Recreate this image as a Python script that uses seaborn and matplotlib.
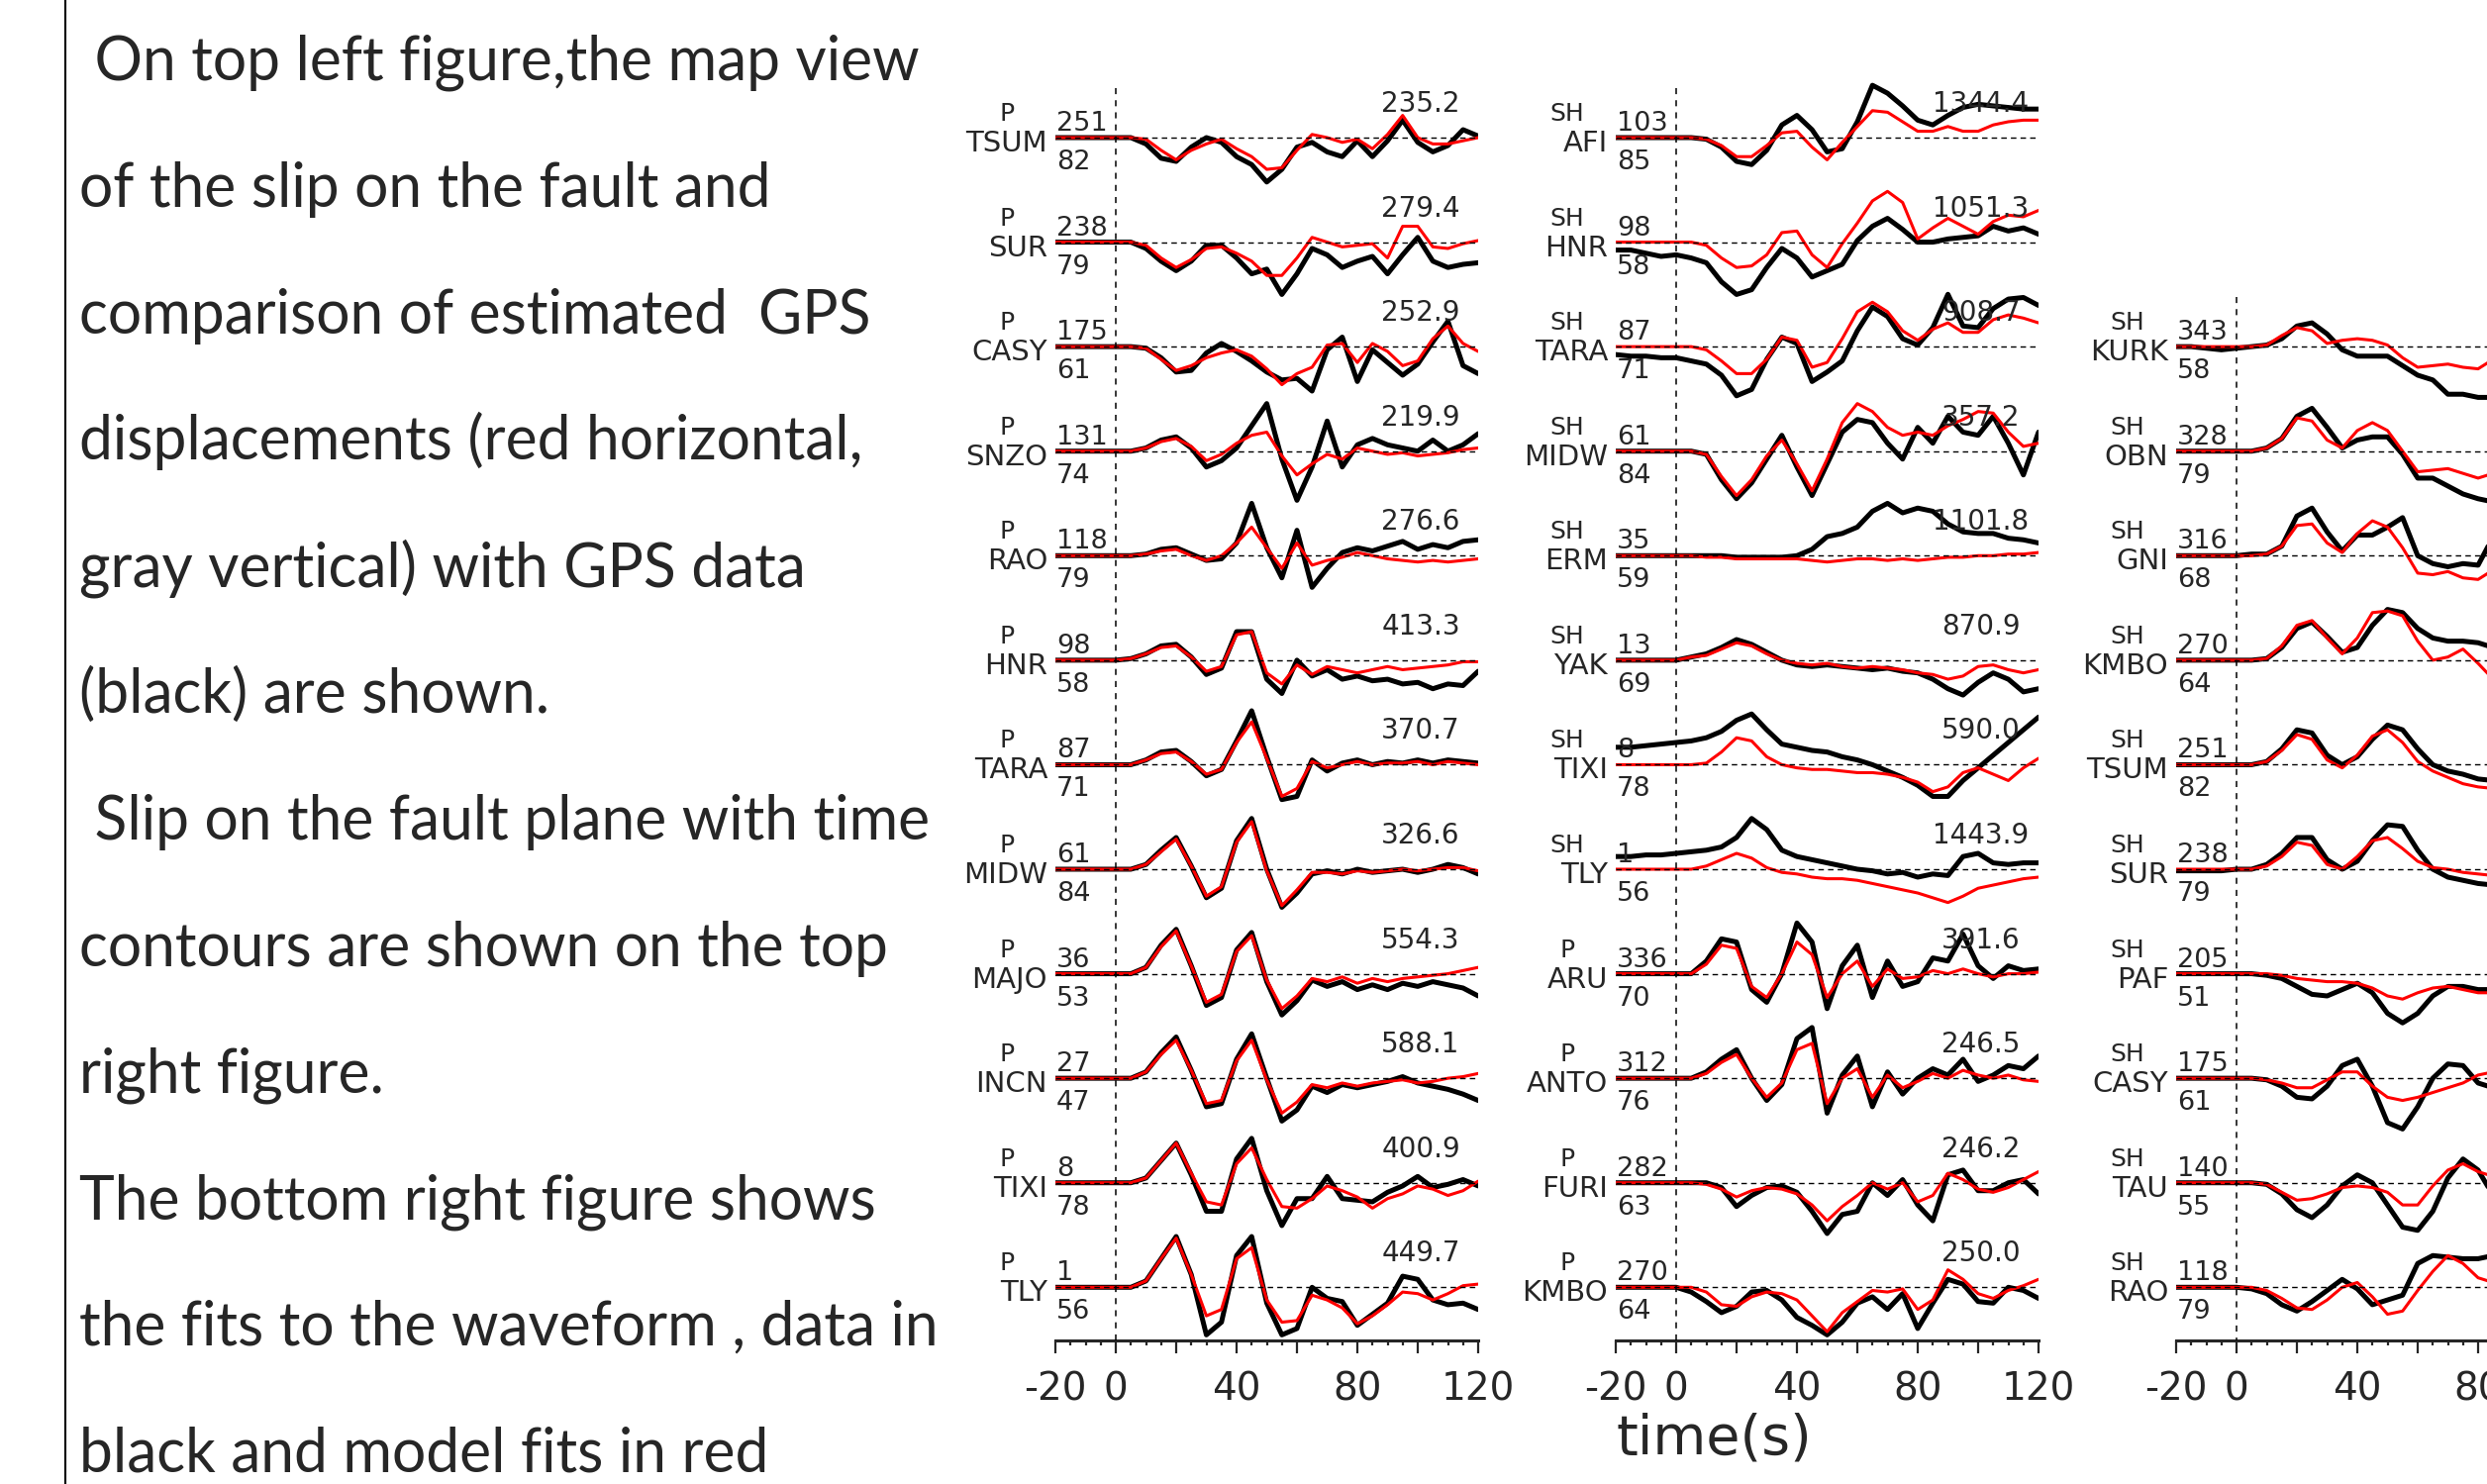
import numpy as np
import matplotlib.pyplot as plt
import matplotlib.ticker as mticker
from matplotlib.lines import Line2D
import seaborn as sns

# time samples (s) - columns 1 and 2 run to 120 s, column 3 is cut by the page edge
TIME = [-20, -15, -10, -5, 0, 5, 10, 15, 20, 25, 30, 35, 40, 45, 50,
        55, 60, 65, 70, 75, 80, 85, 90, 95, 100, 105, 110, 115, 120]
TIME3 = [-20, -15, -10, -5, 0, 5, 10, 15, 20, 25, 30, 35, 40, 45, 50,
         55, 60, 65, 70, 75, 80, 85]

# ---------------- column 1 (P waves) ----------------
tsum_p_obs = [0, 0, 0, 0, 0, 0, -4, -13, -15, -6, 0, -3, -12, -17, -28, -20, -6, -3, -9, -12, -2, -12, -2, 11, -3, -9, -5, 5, 1]
tsum_p_syn = [0, 0, 0, 0, 0, 0, -1, -8, -14, -8, -4, -1, -7, -12, -20, -19, -8, 2, 0, -3, -1, -7, 2, 14, 0, -4, -4, -2, 0]
sur_p_obs = [0, 0, 0, 0, 0, 0, -4, -12, -18, -12, -2, -2, -10, -20, -17, -33, -20, -4, -8, -16, -12, -9, -20, -8, 3, -12, -16, -14, -13]
sur_p_syn = [0, 0, 0, 0, 0, 0, -2, -10, -16, -11, -4, -3, -7, -12, -21, -21, -10, 3, 0, -3, -2, -1, -10, 10, 10, -3, -4, -1, 1]
casy_p_obs = [0, 0, 0, 0, 0, 0, -1, -7, -16, -15, -4, 2, -3, -9, -16, -21, -20, -28, -2, 6, -22, -2, -10, -18, -11, 3, 16, -12, -17]
casy_p_syn = [0, 0, 0, 0, 0, 0, -1, -8, -15, -12, -7, -4, -2, -6, -14, -24, -17, -13, 1, 2, -10, 2, -3, -12, -9, 5, 13, 2, -3]
snzo_p_obs = [0, 0, 0, 0, 0, 0, 2, 7, 9, 2, -10, -6, 2, 16, 30, -5, -31, -10, 19, -10, 4, 8, 4, 2, 0, 7, 0, 4, 11]
snzo_p_syn = [0, 0, 0, 0, 0, 0, 2, 6, 8, 3, -6, -2, 5, 10, 12, -3, -15, -8, -2, -5, 2, 0, -2, -1, -3, -2, -1, 1, 2]
rao_p_obs = [0, 0, 0, 0, 0, 0, 1, 4, 5, 1, -3, -2, 8, 33, 5, -14, 16, -20, -8, 2, 5, 3, 6, 9, 4, 7, 5, 9, 10]
rao_p_syn = [0, 0, 0, 0, 0, 0, 1, 3, 4, 0, -3, 0, 8, 18, 5, -8, 8, -6, -3, -1, 2, 0, -2, -3, -4, -3, -4, -3, -2]
hnr_p_obs = [0, 0, 0, 0, 0, 1, 4, 9, 10, 2, -9, -5, 18, 18, -12, -21, 0, -10, -6, -12, -10, -13, -12, -15, -14, -18, -15, -16, -7]
hnr_p_syn = [0, 0, 0, 0, 0, 1, 4, 8, 9, 2, -7, -4, 16, 18, -8, -15, -3, -9, -4, -6, -8, -6, -4, -6, -5, -4, -3, -1, -1]
tara_p_obs = [0, 0, 0, 0, 0, 0, 3, 8, 9, 2, -7, -3, 15, 34, 5, -22, -20, 3, -4, 1, 3, 0, 2, 1, 3, 1, 3, 2, 1]
tara_p_syn = [0, 0, 0, 0, 0, 0, 3, 7, 8, 2, -6, -3, 14, 27, 4, -20, -15, 2, -2, 0, 2, 0, 1, 1, 2, 0, 2, 1, 0]
midw_p_obs = [0, 0, 0, 0, 0, 0, 3, 12, 20, 2, -18, -12, 18, 32, 0, -24, -15, -3, -1, -3, 0, -2, -1, 0, -2, 0, 3, 1, -3]
midw_p_syn = [0, 0, 0, 0, 0, 0, 3, 11, 19, 2, -17, -11, 17, 30, -1, -23, -13, -2, -2, -3, -1, -2, -1, 0, -1, 0, 1, 1, -1]
majo_p_obs = [0, 0, 0, 0, 0, 0, 4, 18, 28, 5, -20, -15, 15, 26, -5, -26, -17, -4, -8, -5, -10, -7, -10, -6, -8, -5, -7, -9, -14]
majo_p_syn = [0, 0, 0, 0, 0, 0, 4, 17, 27, 5, -18, -13, 14, 24, -4, -22, -14, -3, -5, -2, -6, -3, -5, -3, -2, -1, 0, 2, 4]
incn_p_obs = [0, 0, 0, 0, 0, 0, 4, 16, 26, 5, -18, -16, 12, 28, 0, -27, -20, -5, -9, -4, -6, -4, -2, 1, -3, -5, -7, -10, -14]
incn_p_syn = [0, 0, 0, 0, 0, 0, 4, 15, 24, 5, -16, -14, 11, 24, -1, -22, -15, -4, -6, -3, -5, -3, -2, -1, -3, -2, 0, 1, 3]
tixi_p_obs = [0, 0, 0, 0, 0, 0, 3, 14, 25, 5, -18, -18, 15, 28, -5, -27, -10, -10, 4, -10, -11, -12, -6, -2, 4, -3, -1, 2, -2]
tixi_p_syn = [0, 0, 0, 0, 0, 0, 3, 14, 25, 6, -12, -14, 12, 22, 2, -15, -16, -10, -2, -5, -9, -16, -10, -7, -2, -4, -8, -5, 1]
tly_p_obs = [0, 0, 0, 0, 0, 0, 4, 18, 32, 8, -30, -22, 20, 32, -10, -30, -26, 0, -7, -9, -24, -17, -10, 7, 5, -8, -11, -10, -14]
tly_p_syn = [0, 0, 0, 0, 0, 0, 4, 18, 31, 8, -18, -14, 18, 25, -8, -22, -21, -5, -8, -13, -23, -18, -11, -3, -4, -8, -4, 1, 2]

# ---------------- column 2 (SH then P) ----------------
afi_sh_obs = [0, 0, 0, 0, 0, 0, -1, -6, -15, -17, -8, 8, 14, 5, -9, -7, 10, 33, 28, 20, 11, 8, 14, 19, 21, 20, 19, 18, 18]
afi_sh_syn = [0, 0, 0, 0, 0, 0, -1, -5, -12, -12, -5, 3, 4, -6, -14, -3, 7, 17, 16, 10, 4, 4, 7, 4, 4, 8, 10, 11, 11]
hnr_sh_obs = [-5, -5, -7, -9, -8, -10, -13, -25, -33, -30, -16, -4, -10, -22, -18, -14, 1, 10, 15, 8, 0, 0, 2, 3, 4, 10, 7, 9, 5]
hnr_sh_syn = [0, 0, 0, 0, 0, 0, -2, -10, -16, -15, -8, 6, 7, -8, -16, -1, 12, 26, 32, 25, 2, 9, 15, 10, 5, 13, 17, 16, 20]
tara_sh_obs = [-5, -6, -6, -7, -7, -9, -11, -18, -31, -27, -8, 6, 2, -22, -16, -9, 10, 25, 19, 5, 1, 12, 33, 13, 12, 24, 30, 31, 26]
tara_sh_syn = [0, 0, 0, 0, 0, 0, -2, -9, -17, -17, -8, 6, 4, -13, -10, 5, 22, 28, 22, 10, 4, 11, 15, 9, 9, 17, 20, 18, 15]
midw_sh_obs = [0, 0, 0, 0, 0, 0, -2, -18, -30, -20, -5, 10, -10, -28, -8, 12, 20, 18, 5, -5, 15, 5, 22, 12, 10, 22, 5, -15, 12]
midw_sh_syn = [0, 0, 0, 0, 0, 0, -2, -16, -28, -18, -3, 7, -8, -25, -5, 18, 30, 25, 15, 10, 12, 10, 16, 20, 25, 24, 12, 3, 5]
erm_sh_obs = [0, 0, 0, 0, 0, 0, 0, 0, -1, -1, -1, -1, 0, 4, 12, 14, 18, 28, 33, 27, 30, 28, 20, 15, 14, 14, 11, 10, 8]
erm_sh_syn = [0, 0, 0, 0, 0, 0, -1, -1, -2, -2, -2, -2, -2, -3, -4, -3, -2, -2, -3, -2, -3, -2, -1, -1, 0, 0, 1, 1, 2]
yak_sh_obs = [0, 0, 0, 0, 0, 2, 4, 8, 13, 10, 5, 0, -3, -4, -3, -4, -5, -6, -5, -7, -8, -12, -18, -22, -14, -8, -12, -20, -18]
yak_sh_syn = [0, 0, 0, 0, 0, 2, 3, 7, 11, 9, 4, 0, -2, -3, -2, -4, -5, -4, -5, -6, -8, -9, -12, -10, -4, -3, -6, -8, -6]
tixi_sh_obs = [11, 11, 12, 13, 14, 15, 17, 21, 28, 32, 22, 13, 11, 9, 8, 5, 3, 0, -4, -8, -13, -20, -20, -10, -2, 6, 14, 22, 30]
tixi_sh_syn = [0, 0, 0, 0, 0, 0, 1, 8, 17, 15, 5, 0, -2, -3, -3, -4, -5, -5, -6, -8, -11, -17, -14, -5, -2, -6, -10, -2, 4]
tly_sh_obs = [8, 8, 9, 9, 10, 11, 12, 14, 20, 32, 25, 12, 8, 6, 4, 2, 0, -1, -3, -2, -5, -3, -4, 8, 10, 4, 3, 4, 4]
tly_sh_syn = [0, 0, 0, 0, 0, 0, 2, 6, 10, 7, 1, -2, -3, -5, -6, -6, -7, -9, -11, -13, -15, -18, -21, -17, -12, -10, -8, -6, -5]
aru_p_obs = [0, 0, 0, 0, 0, 0, 8, 22, 20, -10, -18, 0, 32, 20, -22, 5, 18, -15, 8, -8, -5, 10, 8, 25, 5, -3, 5, 2, 3]
aru_p_syn = [0, 0, 0, 0, 0, 0, 6, 18, 16, -8, -15, 0, 20, 12, -15, 0, 8, -8, 3, -3, -2, 2, 0, 3, 0, -2, 0, 0, 1]
anto_p_obs = [0, 0, 0, 0, 0, 0, 4, 12, 18, 0, -14, -4, 25, 32, -22, 2, 14, -18, 4, -10, 0, 6, 2, 12, -2, 2, 8, 6, 14]
anto_p_syn = [0, 0, 0, 0, 0, 0, 3, 10, 15, 0, -12, -3, 18, 22, -16, 0, 6, -12, 2, -6, -2, 3, 0, 5, 2, 0, 2, -1, -2]
furi_p_obs = [0, 0, 0, 0, 0, 0, 0, -3, -15, -8, -3, -2, -6, -18, -32, -20, -18, 0, -8, 2, -14, -24, 5, 8, -5, -5, 0, 2, -7]
furi_p_syn = [0, 0, 0, 0, 0, 0, -1, -4, -9, -5, -3, -4, -7, -14, -24, -15, -8, 0, -4, 0, -12, -8, 6, 2, -4, -6, -3, 2, 7]
kmbo_p_obs = [0, 0, 0, 0, 0, -3, -9, -16, -12, -3, -2, -8, -19, -24, -30, -22, -10, -6, -14, -4, -26, -10, 5, 2, -9, -10, 0, -2, -7]
kmbo_p_syn = [0, 0, 0, 0, 0, 0, -3, -11, -12, -6, -3, -4, -8, -18, -28, -16, -9, -2, -3, -1, -14, -8, 11, 5, -4, -7, -2, 1, 5]

# ---------------- column 3 (SH, starts on the third row) ----------------
kurk_sh_obs = [0, 0, -1, -2, -1, 0, 1, 5, 13, 15, 8, -2, -6, -6, -6, -12, -18, -21, -30, -30, -32, -32]
kurk_sh_syn = [0, 0, 0, 0, 0, 0, 1, 7, 12, 10, 2, 4, 5, 4, 1, -7, -13, -12, -11, -13, -14, -8]
obn_sh_obs = [0, 0, 0, 0, 0, 0, 2, 8, 22, 27, 15, 2, 7, 9, 9, -2, -17, -17, -22, -27, -30, -32]
obn_sh_syn = [0, 0, 0, 0, 0, 0, 2, 8, 21, 19, 7, 2, 13, 18, 13, 0, -13, -12, -11, -14, -17, -14]
gni_sh_obs = [0, 0, 0, 0, 0, 1, 1, 6, 25, 30, 15, 3, 13, 13, 18, 24, 0, -5, -7, -5, -6, 12]
gni_sh_syn = [0, 0, 0, 0, 0, 0, 1, 6, 19, 20, 8, 2, 14, 22, 18, 5, -11, -12, -10, -14, -15, -9]
kmbo_sh_obs = [0, 0, 0, 0, 0, 0, 1, 8, 20, 24, 15, 5, 8, 22, 32, 30, 20, 14, 12, 12, 11, 8]
kmbo_sh_syn = [0, 0, 0, 0, 0, 0, 1, 9, 22, 25, 14, 4, 14, 30, 31, 28, 12, 0, 2, 7, -2, -12]
tsum_sh_obs = [0, 0, 0, 0, 0, 0, 2, 10, 22, 20, 6, 0, 5, 16, 25, 22, 10, 0, -4, -6, -9, -10]
tsum_sh_syn = [0, 0, 0, 0, 0, 0, 2, 9, 19, 16, 3, -2, 6, 18, 22, 14, 2, -4, -8, -12, -14, -15]
sur_sh_obs = [-1, -1, -1, -1, 0, 0, 3, 10, 20, 20, 6, 0, 5, 18, 28, 27, 12, 0, -5, -7, -9, -10]
sur_sh_syn = [0, 0, 0, 0, 0, 0, 2, 8, 17, 15, 3, 0, 8, 18, 20, 13, 5, 1, 0, -2, -3, -4]
paf_sh_obs = [0, 0, 0, 0, 0, 0, -1, -3, -8, -13, -14, -10, -6, -12, -25, -31, -25, -14, -8, -8, -10, -10]
paf_sh_syn = [0, 0, 0, 0, 0, 0, 0, -1, -3, -4, -5, -5, -6, -9, -14, -16, -12, -9, -8, -10, -12, -12]
casy_sh_obs = [0, 0, 0, 0, 0, 0, -1, -5, -12, -13, -5, 8, 12, -5, -28, -32, -18, 0, 9, 8, -3, -6]
casy_sh_syn = [0, 0, 0, 0, 0, 0, -1, -3, -6, -6, -1, 4, 4, -5, -12, -14, -12, -9, -6, -3, 2, 4]
tau_sh_obs = [0, 0, 0, 0, 0, 0, -1, -7, -17, -22, -14, -2, 5, 0, -14, -28, -30, -18, 3, 15, 8, -8]
tau_sh_syn = [0, 0, 0, 0, 0, 0, -1, -6, -11, -10, -7, -3, -2, -3, -6, -14, -14, -2, 8, 12, 7, 4]
rao_sh_obs = [0, 0, 0, 0, 0, -1, -4, -11, -15, -9, -2, 5, -1, -11, -8, -5, 15, 20, 19, 18, 18, 20]
rao_sh_syn = [0, 0, 0, 0, 0, 0, -2, -7, -13, -14, -8, 0, 3, -6, -17, -15, -2, 10, 20, 15, 6, 3]

# station labels
col1_phase = ['P'] * 12
col1_station = ['TSUM', 'SUR', 'CASY', 'SNZO', 'RAO', 'HNR', 'TARA', 'MIDW', 'MAJO', 'INCN', 'TIXI', 'TLY']
col1_az = [251, 238, 175, 131, 118, 98, 87, 61, 36, 27, 8, 1]
col1_dist = [82, 79, 61, 74, 79, 58, 71, 84, 53, 47, 78, 56]
col1_amp = ['235.2', '279.4', '252.9', '219.9', '276.6', '413.3', '370.7', '326.6', '554.3', '588.1', '400.9', '449.7']
col1_obs = [tsum_p_obs, sur_p_obs, casy_p_obs, snzo_p_obs, rao_p_obs, hnr_p_obs, tara_p_obs, midw_p_obs, majo_p_obs, incn_p_obs, tixi_p_obs, tly_p_obs]
col1_syn = [tsum_p_syn, sur_p_syn, casy_p_syn, snzo_p_syn, rao_p_syn, hnr_p_syn, tara_p_syn, midw_p_syn, majo_p_syn, incn_p_syn, tixi_p_syn, tly_p_syn]

col2_phase = ['SH'] * 8 + ['P'] * 4
col2_station = ['AFI', 'HNR', 'TARA', 'MIDW', 'ERM', 'YAK', 'TIXI', 'TLY', 'ARU', 'ANTO', 'FURI', 'KMBO']
col2_az = [103, 98, 87, 61, 35, 13, 8, 1, 336, 312, 282, 270]
col2_dist = [85, 58, 71, 84, 59, 69, 78, 56, 70, 76, 63, 64]
col2_amp = ['1344.4', '1051.3', '908.7', '357.2', '1101.8', '870.9', '590.0', '1443.9', '391.6', '246.5', '246.2', '250.0']
col2_obs = [afi_sh_obs, hnr_sh_obs, tara_sh_obs, midw_sh_obs, erm_sh_obs, yak_sh_obs, tixi_sh_obs, tly_sh_obs, aru_p_obs, anto_p_obs, furi_p_obs, kmbo_p_obs]
col2_syn = [afi_sh_syn, hnr_sh_syn, tara_sh_syn, midw_sh_syn, erm_sh_syn, yak_sh_syn, tixi_sh_syn, tly_sh_syn, aru_p_syn, anto_p_syn, furi_p_syn, kmbo_p_syn]

col3_phase = ['SH'] * 10
col3_station = ['KURK', 'OBN', 'GNI', 'KMBO', 'TSUM', 'SUR', 'PAF', 'CASY', 'TAU', 'RAO']
col3_az = [343, 328, 316, 270, 251, 238, 205, 175, 140, 118]
col3_dist = [58, 79, 68, 64, 82, 79, 51, 61, 55, 79]
col3_obs = [kurk_sh_obs, obn_sh_obs, gni_sh_obs, kmbo_sh_obs, tsum_sh_obs, sur_sh_obs, paf_sh_obs, casy_sh_obs, tau_sh_obs, rao_sh_obs]
col3_syn = [kurk_sh_syn, obn_sh_syn, gni_sh_syn, kmbo_sh_syn, tsum_sh_syn, sur_sh_syn, paf_sh_syn, casy_sh_syn, tau_sh_syn, rao_sh_syn]

text_lines = [
    " On top left figure,the map view",
    "of the slip on the fault and",
    "comparison of estimated  GPS",
    "displacements (red horizontal,",
    "gray vertical) with GPS data",
    "(black) are shown.",
    " Slip on the fault plane with time",
    "contours are shown on the top",
    "right figure.",
    "The bottom right figure shows",
    "the fits to the waveform , data in",
    "black and model fits in red",
]

# -----------------------------
# figure setup
# -----------------------------
sns.set_style('white')
plt.rcParams['font.family'] = ['DejaVu Sans']

W, H = 2512, 1499
fig = plt.figure(figsize=(W / 100, H / 100), dpi=100)
fig.patch.set_facecolor('white')

SP = 65.9      # row spacing in trace units
PX = 1.602     # pixels per trace unit
Y0 = 139       # pixel row of the first baseline
AX_BOT = 1354  # pixel row of the time axis
AX_TOP = 60
y_bot = -(AX_BOT - Y0) / PX
y_top = (Y0 - AX_TOP) / PX


def draw_column(x_left, t, phases, stations, azs, dists, amps, obs, syn, first_row):
    ax = fig.add_axes([x_left / W, 1 - AX_BOT / H, 427 / W, (AX_BOT - AX_TOP) / H])
    ax.set_xlim(-20, 120)
    ax.set_ylim(y_bot, y_top)
    ax.set_facecolor('none')

    for k in range(len(stations)):
        base = -SP * (first_row + k)
        ax.plot([-20, 120], [base, base], color='black', lw=1.0,
                ls=(0, (4, 3)), zorder=5)
        sns.lineplot(x=t, y=np.array(obs[k], dtype=float) + base, ax=ax,
                     color='black', linewidth=3.6, estimator=None, sort=False,
                     solid_joinstyle='round', solid_capstyle='round', zorder=2)
        sns.lineplot(x=t, y=np.array(syn[k], dtype=float) + base, ax=ax,
                     color='#ff0000', linewidth=2.2, estimator=None, sort=False,
                     solid_joinstyle='round', solid_capstyle='round', zorder=3)
        ax.text(-36.1, base + 10.6, phases[k], ha='center', va='baseline', fontsize=18)
        ax.text(-22.6, base - 8.7, stations[k], ha='right', va='baseline', fontsize=21)
        ax.text(-19.7, base + 4.4, str(azs[k]), ha='left', va='baseline', fontsize=19.5)
        ax.text(-19.7, base - 20.0, str(dists[k]), ha='left', va='baseline', fontsize=19.5)
        if amps is not None:
            ax.text(101, base + 16.2, amps[k], ha='center', va='baseline', fontsize=20)

    # vertical dashed line at t = 0
    top = -SP * first_row + (Y0 - 89) / PX
    ax.plot([0, 0], [top, y_bot], color='black', lw=1.1, ls=(0, (4, 4)), zorder=5)

    for side in ['left', 'right', 'top']:
        ax.spines[side].set_visible(False)
    ax.spines['bottom'].set_linewidth(2.2)
    ax.set_yticks([])
    ax.set_xlabel('')
    ax.set_ylabel('')
    ax.xaxis.set_major_locator(mticker.FixedLocator([-20, 0, 20, 40, 60, 80, 100, 120]))
    ax.xaxis.set_major_formatter(mticker.FixedFormatter(['-20', '0', '', '40', '', '80', '', '120']))
    ax.xaxis.set_minor_locator(mticker.MultipleLocator(5))
    ax.tick_params(axis='x', which='major', direction='out', length=9, width=1.6,
                   labelsize=28, pad=13, bottom=True)
    ax.tick_params(axis='x', which='minor', direction='out', length=3.8, width=1.6,
                   bottom=True)
    if ax.get_legend() is not None:
        ax.get_legend().remove()
    return ax


draw_column(1066, TIME, col1_phase, col1_station, col1_az, col1_dist, col1_amp,
            col1_obs, col1_syn, 0)
draw_column(1632, TIME, col2_phase, col2_station, col2_az, col2_dist, col2_amp,
            col2_obs, col2_syn, 0)
draw_column(2198, TIME3, col3_phase, col3_station, col3_az, col3_dist, None,
            col3_obs, col3_syn, 2)

fig.text(1632 / W, 1 - 1453 / H, 'time(s)', fontsize=40, ha='left', va='center')

# -----------------------------
# left description text
# -----------------------------
fig.add_artist(Line2D([66 / W, 66 / W], [0, 1], color='black', lw=1.5,
                      transform=fig.transFigure))

renderer = fig.canvas.get_renderer()
probe = fig.text(0, 0, text_lines[0], fontsize=46, family='Lato')
w = probe.get_window_extent(renderer).width
probe.remove()
fs = 46 * 849 / w

for i, s in enumerate(text_lines):
    fig.text(80 / W, 1 - (81 + 127.8 * i) / H, s, fontsize=fs, family='Lato',
             ha='left', va='baseline')

fig.savefig('out.png', dpi=100)
